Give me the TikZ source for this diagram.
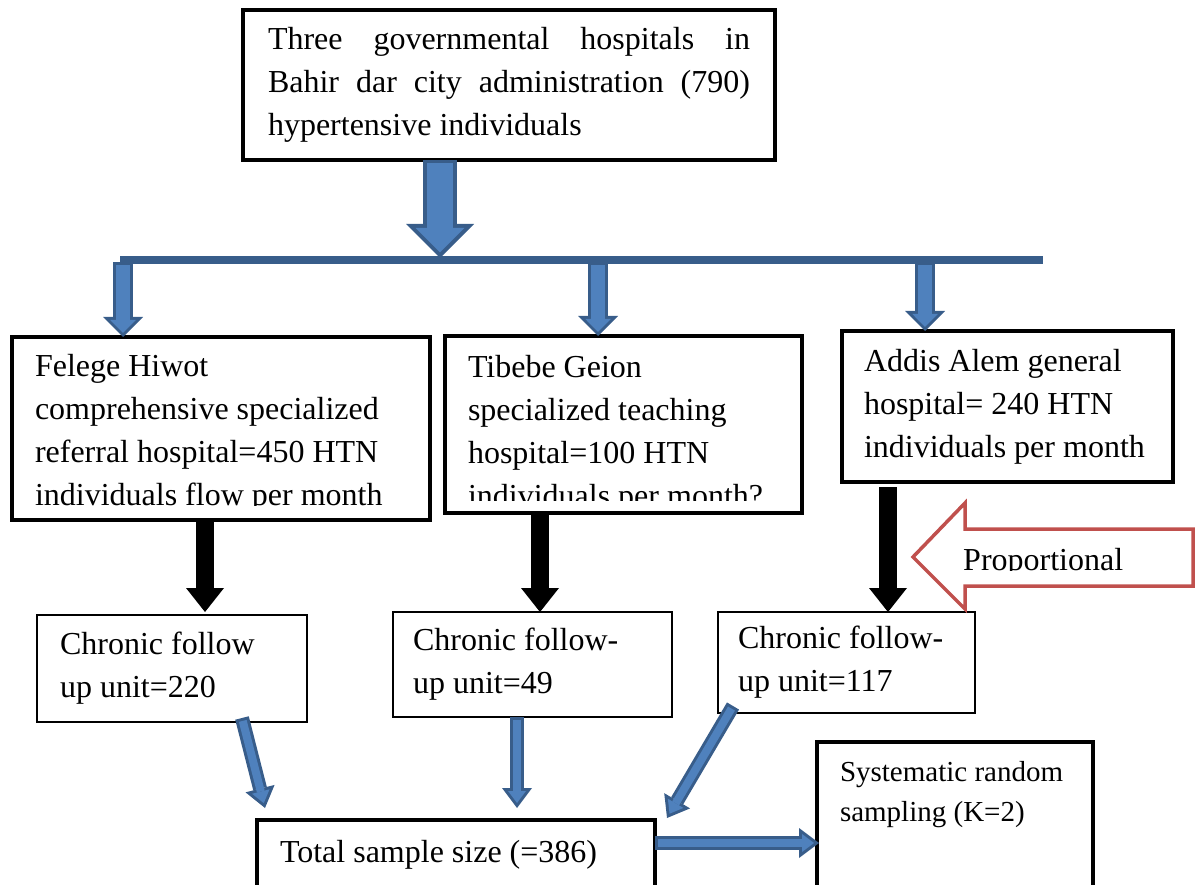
\documentclass[tikz,border=0pt]{standalone}
\usepackage{fontspec}
\setmainfont{Liberation Serif}
\usetikzlibrary{arrows.meta}
\definecolor{arrowfill}{HTML}{4F81BD}
\definecolor{arrowline}{HTML}{385D8A}
\definecolor{propred}{HTML}{C0504D}
\newcommand{\fullline}[1]{\makebox[482pt][s]{#1}}

\begin{document}
\begin{tikzpicture}[x=1pt,y=-1pt]
  \tikzstyle{box}=[draw, line width=4.5pt, anchor=north west, align=left, outer sep=0pt,
                   inner xsep=23pt, font=\fontsize{32}{43}\selectfont,
                   execute at begin node={\spaceskip=0pt\xspaceskip=0pt}]
  \tikzstyle{thinbox}=[box, line width=1.5pt, inner xsep=20pt]
  \tikzstyle{bus}=[draw=arrowline, line width=8pt]
  \tikzstyle{bigdrop}=[draw=arrowline, line width=34pt, -{Triangle[width=68pt,length=34pt,line width=0pt]},
     postaction={draw=arrowfill, line width=26pt, -{Triangle[width=48.7pt,length=24.3pt,line width=0pt]},
                 shorten >=5.7pt, shorten <=3pt}]
  \tikzstyle{drop}=[draw=arrowline, line width=20pt, -{Triangle[width=40pt,length=20pt,line width=0pt]},
     postaction={draw=arrowfill, line width=14pt, -{Triangle[width=25.5pt,length=12.8pt,line width=0pt]},
                 shorten >=4.2pt, shorten <=3pt}]
  \tikzstyle{flow}=[draw=arrowline, line width=14pt, -{Triangle[width=30pt,length=20pt,line width=0pt]},
     postaction={draw=arrowfill, line width=8pt, -{Triangle[width=18pt,length=12pt,line width=0pt]},
                 shorten >=5pt, shorten <=3pt}]
  \tikzstyle{down}=[draw=black, line width=18pt, -{Triangle[width=38pt,length=24pt,line width=0pt]}]
  \tikzstyle{propline}=[draw=propred, line width=3.5pt, line join=miter]

  \useasboundingbox (0,0) rectangle (1197,885);
  \clip (0,0) rectangle (1197,885);

  \node[box, text width=482pt, minimum height=150pt, inner xsep=25pt] (govt) at (243,10)
    {\fullline{Three governmental hospitals in}\\\fullline{Bahir dar city administration (790)}\\hypertensive individuals};

  \node[box, text width=372pt, inner ysep=17pt, text depth=127pt] (felege) at (12,337)
    {Felege Hiwot\\comprehensive specialized\\referral hospital=450 HTN\\individuals flow per month};
  \node[box, text width=311pt, inner ysep=19pt, text depth=117pt] (tibebe) at (445,336)
    {Tibebe Geion\\specialized teaching\\hospital=100 HTN\\individuals per month?};
  \node[box, text width=287pt, inner xsep=22pt, minimum height=151pt] (addis) at (842,331)
    {Addis Alem general\\hospital= 240 HTN\\individuals per month};
  \fill[white] ([shift={(2.5pt,2pt)}]felege.south west) rectangle ([shift={(-2.5pt,14pt)}]felege.south east);
  \fill[white] ([shift={(2.5pt,2pt)}]tibebe.south west) rectangle ([shift={(-2.5pt,12pt)}]tibebe.south east);

  \node[thinbox, text width=224pt, inner xsep=23pt, minimum height=107pt] (follA) at (37,615)
    {Chronic follow\\up unit=220};
  \node[thinbox, text width=239pt, minimum height=105pt] (follB) at (393,612)
    {Chronic follow-\\up unit=49};
  \node[thinbox, text width=217pt, minimum height=101pt] (follC) at (718,612)
    {Chronic follow-\\up unit=117};

  \node[box, text width=352pt, minimum height=70pt] (total) at (257,820) {Total sample size (=386)};
  \node[box, text width=230pt, inner ysep=19pt, text depth=120pt, font=\fontsize{29}{40}\selectfont]
    (sysrand) at (817,742) {Systematic random\\sampling (K=2)};

  % split line
  \coordinate (split) at (440,260);
  \coordinate (busL) at (120,260);
  \coordinate (busR) at (1043,260);
  \coordinate (drop1) at (123,260);
  \coordinate (drop2) at (598,260);
  \coordinate (drop3) at (925,260);
  \draw[bus] (busL) -- (busR);
  \draw[bigdrop] (govt.south -| split) -- ([yshift=2pt]split);
  \draw[drop] ([yshift=-2pt]drop1) -- (drop1 |- felege.north);
  \draw[drop] ([yshift=-2pt]drop2) -- (drop2 |- tibebe.north);
  \draw[drop] ([yshift=-2pt]drop3) -- (drop3 |- addis.north);

  % proportional
  \draw[propline] (913,557) -- (965,503) -- (965,529) -- (1193,529) -- (1193,586)
    -- (965,586) -- (965,609) -- cycle;
  \node[anchor=base west, inner sep=0pt, font=\fontsize{32}{43}\selectfont] (prop) at (963,570) {Proportional};
  \fill[white] (967,571) rectangle (1190,584);

  \draw[down] ([xshift=193pt]felege.south west) -- ([xshift=168pt,yshift=3pt]follA.north west);
  \draw[down] ([xshift=95pt]tibebe.south west) -- ([xshift=147pt]follB.north west);
  \draw[down] ([xshift=46pt,yshift=-5pt]addis.south west) -- ([xshift=170pt]follC.north west);

  \draw[flow] ([shift={(205pt,4pt)}]follA.south west) -- ([shift={(8pt,12pt)}]total.north west);
  \draw[flow] ([xshift=124pt]follB.south west) -- ([shift={(260pt,12pt)}]total.north west);
  \draw[flow] ([shift={(15pt,7pt)}]follC.south west) -- ([shift={(12pt,2pt)}]total.north east);
  \draw[flow] ([yshift=-23pt]total.north east) -- ([shift={(2pt,-101pt)}]sysrand.north west);
\end{tikzpicture}
\end{document}
